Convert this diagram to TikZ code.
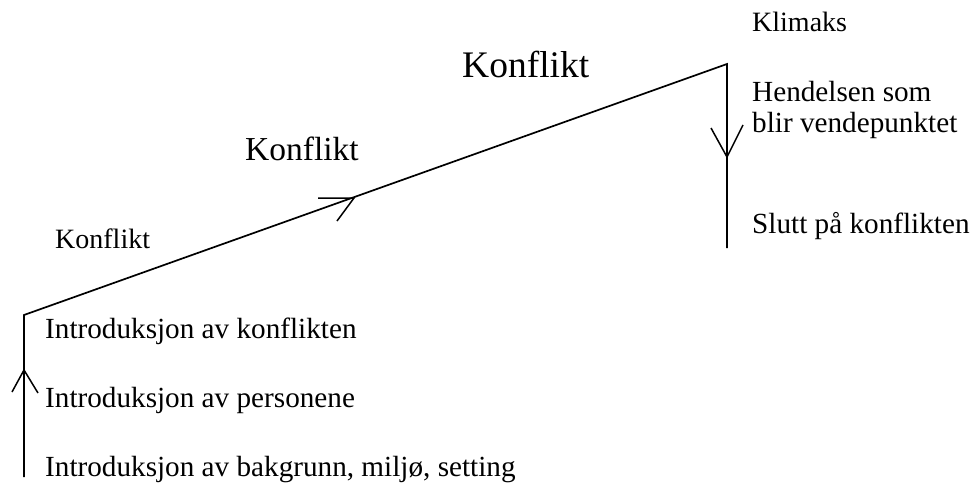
\documentclass[tikz,border=0pt]{standalone}
\usepackage{fontspec}
\setmainfont{Liberation Serif}
\begin{document}
\begin{tikzpicture}[x=1pt,y=-1pt,
  lbl/.style={anchor=base west,inner sep=0pt,font=\fontsize{29.2}{32}\selectfont},
  ln/.style={line width=1.7pt,line join=miter},
  tip/.style={line width=1.5pt}]
\useasboundingbox (0,0) rectangle (971,482);
% main path
\coordinate (A) at (24,477);
\coordinate (B) at (24,315);
\coordinate (C) at (727,64);
\coordinate (D) at (727,248);
\draw[ln] (A) -- (B) -- (C) -- (D);
% arrowheads
\coordinate (t1) at (24,370);
\coordinate (t1l) at (12,392);
\coordinate (t1r) at (38,393);
\draw[tip] (t1l) -- (t1) -- (t1r);
\coordinate (t2) at (354,198);
\coordinate (t2l) at (318,198);
\coordinate (t2r) at (337,221);
\draw[tip] (t2l) -- (t2) -- (t2r);
\coordinate (t3) at (727,157);
\coordinate (t3l) at (711,128);
\coordinate (t3r) at (743,125);
\draw[tip] (t3l) -- (t3) -- (t3r);
% labels
\node[lbl,font=\fontsize{37.5}{40}\selectfont] (k3) at (462,77) {Konflikt};
\node[lbl,font=\fontsize{33.5}{36}\selectfont] (k2) at (245,160) {Konflikt};
\node[lbl,font=\fontsize{28}{32}\selectfont] (k1) at (55,248) {Konflikt};
\node[lbl,font=\fontsize{28}{32}\selectfont] (kl) at (752,31) {Klimaks};
\node[lbl] (h1) at (752,101) {Hendelsen som};
\node[lbl] (h2) at (752,132) {blir vendepunktet};
\node[lbl] (sl) at (752,233) {Slutt på konflikten};
\node[lbl] (i1) at (45,338) {Introduksjon av konflikten};
\node[lbl] (i2) at (45,407) {Introduksjon av personene};
\node[lbl] (i3) at (45,476) {Introduksjon av bakgrunn, miljø, setting};
\end{tikzpicture}
\end{document}
